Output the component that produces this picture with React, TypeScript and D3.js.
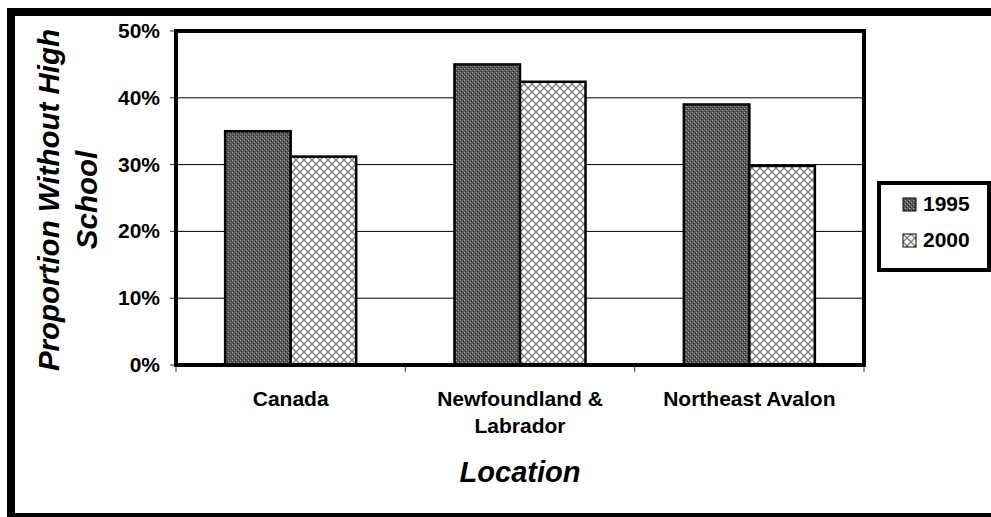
import React from "react";
import * as d3 from "d3";

const categories: string[][] = [["Canada"], ["Newfoundland &", "Labrador"], ["Northeast Avalon"]];
const categoryKeys = ["Canada", "Newfoundland & Labrador", "Northeast Avalon"];
const seriesNames = ["1995", "2000"];
const values1995 = [0.35, 0.45, 0.39];
const values2000 = [0.312, 0.424, 0.298];
const yTicks = [0, 0.1, 0.2, 0.3, 0.4, 0.5];

const W = 991;
const H = 517;
const plot = { left: 176, right: 864, top: 31, bottom: 365 };
const FONT = "'Liberation Sans', Arial, Helvetica, sans-serif";

export default function App() {
  const x0 = d3
    .scaleBand<string>()
    .domain(categoryKeys)
    .range([plot.left, plot.right])
    .paddingInner(1.5 / 3.5)
    .paddingOuter(0.75 / 3.5);
  const x1 = d3.scaleBand<string>().domain(seriesNames).range([0, x0.bandwidth()]);
  const y = d3.scaleLinear().domain([0, 0.5]).range([plot.bottom, plot.top]);
  const fmt = d3.format(".0%");
  const seriesValues = [values1995, values2000];
  const fills = ["url(#pat1995)", "url(#pat2000)"];
  const step = x0.step();
  const boundaries = d3.range(categoryKeys.length + 1).map((i) => plot.left + i * step);

  return (
    <svg
      width={W}
      height={H}
      style={{ position: "absolute", left: 0, top: 0, display: "block", background: "#fff" }}
      fontFamily={FONT}
    >
      <defs>
        <pattern id="pat1995" width={4} height={4} patternUnits="userSpaceOnUse">
          <rect width={4} height={4} fill="#585858" />
          <rect x={0} y={0} width={1} height={1} fill="#a0a0a0" />
          <rect x={2} y={2} width={1} height={1} fill="#a0a0a0" />
          <rect x={1} y={3} width={1} height={1} fill="#303030" />
          <rect x={3} y={1} width={1} height={1} fill="#303030" />
        </pattern>
        <pattern id="pat2000" width={8} height={8} patternUnits="userSpaceOnUse">
          <rect width={8} height={8} fill="#fff" />
          <path d="M0,0L8,8M8,0L0,8" stroke="#7a7a7a" strokeWidth={1.3} />
        </pattern>
      </defs>

      {/* outer frame */}
      <rect x={11} y={12} width={990} height={505} fill="none" stroke="#000" strokeWidth={8} />

      {/* gridlines */}
      {yTicks.slice(1, -1).map((t) => (
        <line key={t} x1={plot.left} x2={plot.right} y1={y(t)} y2={y(t)} stroke="#000" strokeWidth={1} />
      ))}

      {/* y ticks and labels */}
      {yTicks.map((t) => (
        <g key={"yt" + t}>
          <line x1={plot.left - 6} x2={plot.left} y1={y(t)} y2={y(t)} stroke="#333" strokeWidth={1} />
          <text x={160} y={y(t) + 7} textAnchor="end" fontSize={21} fontWeight="bold" fill="#000">
            {fmt(t)}
          </text>
        </g>
      ))}

      {/* x ticks */}
      {boundaries.map((b, i) => (
        <line key={"xt" + i} x1={b} x2={b} y1={plot.bottom} y2={plot.bottom + 7} stroke="#333" strokeWidth={1} />
      ))}

      {/* bars */}
      {categoryKeys.map((c, ci) => (
        <g key={c}>
          {seriesNames.map((s, si) => {
            const v = seriesValues[si][ci];
            const bx = (x0(c) as number) + (x1(s) as number);
            return (
              <rect
                key={s}
                x={bx}
                y={y(v)}
                width={x1.bandwidth()}
                height={y(0) - y(v)}
                fill={fills[si]}
                stroke="#000"
                strokeWidth={2.5}
              />
            );
          })}
        </g>
      ))}

      {/* plot frame */}
      <rect
        x={plot.left}
        y={plot.top}
        width={plot.right - plot.left}
        height={plot.bottom - plot.top}
        fill="none"
        stroke="#000"
        strokeWidth={4}
      />

      {/* category labels */}
      {categories.map((lines, ci) => (
        <text
          key={"cl" + ci}
          x={(x0(categoryKeys[ci]) as number) + x0.bandwidth() / 2}
          y={406}
          textAnchor="middle"
          fontSize={21}
          fontWeight="bold"
          fill="#000"
        >
          {lines.map((l, li) => (
            <tspan key={li} x={(x0(categoryKeys[ci]) as number) + x0.bandwidth() / 2} dy={li === 0 ? 0 : 27}>
              {l}
            </tspan>
          ))}
        </text>
      ))}

      {/* axis titles */}
      <text
        x={(plot.left + plot.right) / 2}
        y={482}
        textAnchor="middle"
        fontSize={29}
        fontWeight="bold"
        fontStyle="italic"
        fill="#000"
      >
        Location
      </text>
      <g transform={`translate(0, ${(plot.top + plot.bottom) / 2 + 2}) rotate(-90)`}>
        <text x={0} y={59} textAnchor="middle" fontSize={29.5} fontWeight="bold" fontStyle="italic" fill="#000">
          Proportion Without High
        </text>
        <text x={0} y={97} textAnchor="middle" fontSize={29.5} fontWeight="bold" fontStyle="italic" fill="#000">
          School
        </text>
      </g>

      {/* legend */}
      <rect x={879} y={183} width={110} height={87} fill="#fff" stroke="#000" strokeWidth={4} />
      {seriesNames.map((s, si) => (
        <g key={"lg" + s} transform={`translate(903, ${198 + si * 36})`}>
          <rect x={0} y={0} width={13} height={13} fill={fills[si]} stroke="#000" strokeWidth={1} />
          <text x={20} y={13} fontSize={21} fontWeight="bold" fill="#000">
            {s}
          </text>
        </g>
      ))}
    </svg>
  );
}
